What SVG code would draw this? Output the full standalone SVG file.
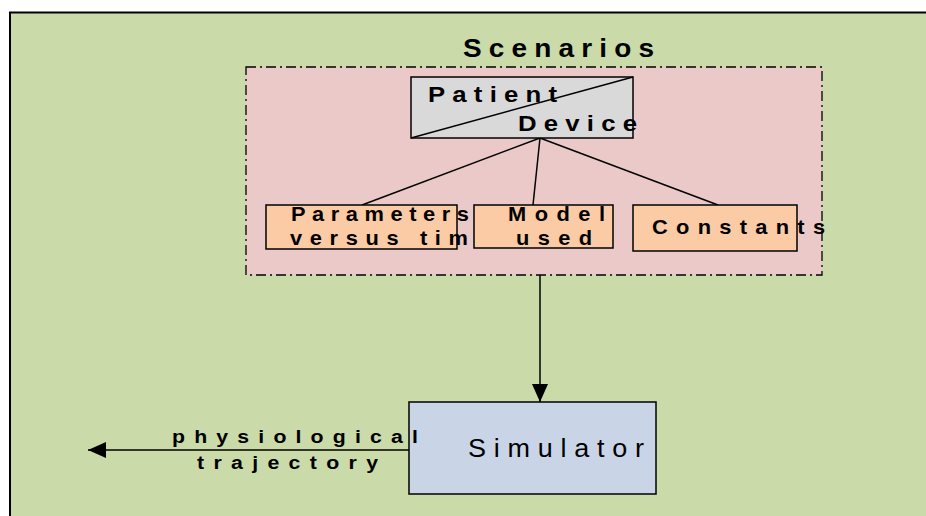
<svg xmlns="http://www.w3.org/2000/svg" width="926" height="516" viewBox="0 0 926 516">
<style>
.box{stroke:#000;stroke-width:1.5}
.t{font-family:"Liberation Sans",Arial,sans-serif;font-weight:bold;fill:#000}
.n{font-family:"Liberation Sans",Arial,sans-serif;fill:#000}
.ln{stroke:#000;stroke-width:1.5;fill:none}
</style>
<defs>
<marker id="ah2" markerWidth="18" markerHeight="16" refX="18" refY="8" orient="auto" markerUnits="userSpaceOnUse" viewBox="0 0 18 16">
<path d="M0,0 L18,8 L0,16 Z" fill="#000"/>
</marker>
</defs>
<rect x="0" y="0" width="926" height="516" fill="#fff"/>
<g id="background">
<rect x="10" y="12.5" width="930" height="520" fill="#cbdaa9" stroke="#000" stroke-width="2"/>
</g>
<g id="scenarios">
<rect x="246" y="67" width="576" height="208" fill="#ecc9c9" stroke="#000" stroke-width="1.3" stroke-dasharray="10,4,2,4"/>
<text class="t" transform="translate(463,56.5) scale(1.12,1)" font-size="25" textLength="170.5" lengthAdjust="spacing">Scenarios</text>
</g>
<g id="connectors">
<line class="ln" x1="540" y1="138" x2="362" y2="205"/>
<line class="ln" x1="540" y1="138" x2="533" y2="205"/>
<line class="ln" x1="540" y1="138" x2="718" y2="205"/>
<line class="ln" x1="540" y1="275" x2="540" y2="402" marker-end="url(#ah2)"/>
<line class="ln" x1="409" y1="450" x2="88" y2="450" marker-end="url(#ah2)"/>
</g>
<g id="patient-device">
<rect class="box" x="411" y="77" width="222" height="61" fill="#d9d9d9"/>
<line class="ln" x1="411" y1="138" x2="633" y2="77"/>
<text class="t" transform="translate(428,102) scale(1.12,1)" font-size="23" textLength="115.2" lengthAdjust="spacing">Patient</text>
<text class="t" transform="translate(518,131) scale(1.12,1)" font-size="23" textLength="106.3" lengthAdjust="spacing">Device</text>
</g>
<g id="parameters">
<rect class="box" x="266" y="205" width="191" height="44" fill="#fbcba6"/>
<text class="t" transform="translate(291,221) scale(1.12,1)" font-size="19.5" textLength="158.9" lengthAdjust="spacing">Parameters</text>
<text class="t" transform="translate(290,245) scale(1.12,1)" font-size="19.5" textLength="158.9" lengthAdjust="spacing">versus tim</text>
</g>
<g id="model">
<rect class="box" x="474" y="205" width="139" height="43" fill="#fbcba6"/>
<text class="t" transform="translate(508,221) scale(1.12,1)" font-size="19.5" textLength="86.6" lengthAdjust="spacing">Model</text>
<text class="t" transform="translate(516,245) scale(1.12,1)" font-size="19.5" textLength="67.9" lengthAdjust="spacing">used</text>
</g>
<g id="constants">
<rect class="box" x="633" y="205" width="164" height="46" fill="#fbcba6"/>
<text class="t" transform="translate(652,234) scale(1.12,1)" font-size="19.5" textLength="154.5" lengthAdjust="spacing">Constants</text>
</g>
<g id="simulator">
<rect class="box" x="409" y="402" width="247" height="92" fill="#c9d5e6"/>
<text class="n" transform="translate(468,457) scale(1.08,1)" font-size="25" textLength="163" lengthAdjust="spacing">Simulator</text>
</g>
<g id="output-label">
<text class="t" transform="translate(172,443) scale(1.12,1)" font-size="19" textLength="219.6" lengthAdjust="spacing">physiological</text>
<text class="t" transform="translate(197,469) scale(1.12,1)" font-size="19" textLength="161.6" lengthAdjust="spacing">trajectory</text>
</g>
</svg>
